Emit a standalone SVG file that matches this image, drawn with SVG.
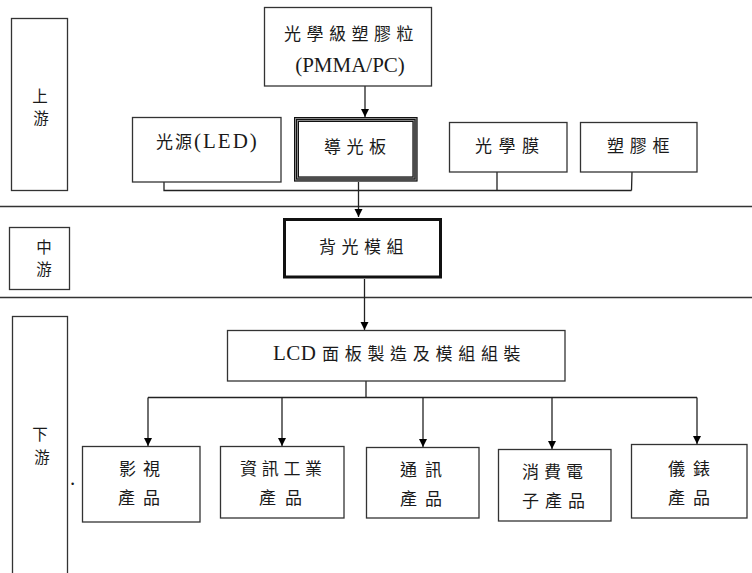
<svg xmlns="http://www.w3.org/2000/svg" width="752" height="573" viewBox="0 0 752 573">
<style>
  .box{fill:#fff;stroke:#333;stroke-width:1.3}
  .sep{stroke:#333;stroke-width:1.3;fill:none}
  .cn{font-family:"Noto Sans CJK TC","Liberation Serif",serif;font-size:17px;fill:#1a1a1a}
  .stage{font-family:"Noto Sans CJK TC","Liberation Serif",serif;font-size:15.5px;fill:#1a1a1a;text-anchor:middle}
  .lat{font-family:"Liberation Serif",serif;font-size:21px;fill:#1a1a1a}
  .mid{text-anchor:middle}
  .conn path{stroke:#222;stroke-width:1.3;fill:none}
</style>
<defs>
  <marker id="arr" markerUnits="userSpaceOnUse" markerWidth="9" markerHeight="9" refX="8" refY="4" orient="auto">
    <path d="M0,0 L8,4 L0,8 Z" fill="#000"/>
  </marker>
</defs>
<rect width="752" height="573" fill="#fff"/>

<!-- separators -->
<path class="sep" d="M0,206.5 H752 M0,297.5 H752"/>

<!-- stage labels -->
<g id="upstream">
  <rect class="box" x="11.5" y="18.5" width="56" height="172"/>
  <text class="stage" x="40" y="101.5">上</text>
  <text class="stage" x="41" y="124">游</text>
</g>
<g id="midstream">
  <rect class="box" x="9.5" y="227.5" width="60" height="62"/>
  <text class="stage" x="44" y="252.5">中</text>
  <text class="stage" x="44" y="275">游</text>
</g>
<g id="downstream">
  <rect class="box" x="12.5" y="316.5" width="55" height="300"/>
  <text class="stage" x="40" y="439.5">下</text>
  <text class="stage" x="42" y="462.5">游</text>
</g>
<text class="lat" x="70" y="485" font-size="12">.</text>

<!-- connectors -->
<g class="conn">
  <path d="M365,86 V117" marker-end="url(#arr)"/>
  <path d="M164,182 V190.5 H631.5 M497,172 V190.5 M632,172 L631.5,190.5"/>
  <path d="M358.5,182 V217" marker-end="url(#arr)"/>
  <path d="M364.5,279 V330" marker-end="url(#arr)"/>
  <path d="M366,381 V397.5 M148,397.5 H697"/>
  <path d="M148,397.5 V446" marker-end="url(#arr)"/>
  <path d="M282,397.5 V446" marker-end="url(#arr)"/>
  <path d="M423,397.5 V447" marker-end="url(#arr)"/>
  <path d="M552,397.5 V449" marker-end="url(#arr)"/>
  <path d="M697,397.5 V444" marker-end="url(#arr)"/>
</g>

<!-- upstream nodes -->
<g id="pmma">
  <rect class="box" x="264.5" y="7.5" width="167" height="78.5"/>
  <text class="cn" x="284" y="39.5" letter-spacing="5.5">光學級塑膠粒</text>
  <text class="lat mid" x="350" y="72">(PMMA/PC)</text>
</g>
<g id="led">
  <rect class="box" x="132.5" y="117.5" width="148.5" height="64.5"/>
  <text class="cn" x="156" y="147.5" letter-spacing="2">光源<tspan class="lat" letter-spacing="2">(LED)</tspan></text>
</g>
<g id="lgp">
  <rect x="294" y="117" width="123.5" height="64.5" fill="#fff" stroke="none"/>
  <rect x="296.5" y="119.5" width="118.5" height="59.5" fill="none" stroke="#888" stroke-width="5"/>
  <rect x="294.5" y="117.5" width="122.5" height="63.5" fill="none" stroke="#111" stroke-width="1"/>
  <rect x="296.5" y="119.5" width="118.5" height="59.5" fill="none" stroke="#111" stroke-width="1"/>
  <rect x="298.5" y="121.5" width="114.5" height="55.5" fill="none" stroke="#111" stroke-width="1"/>
  <text class="cn" x="324" y="152.5" letter-spacing="5.5">導光板</text>
</g>
<g id="film">
  <rect class="box" x="449.5" y="122.5" width="117.5" height="49.5"/>
  <text class="cn" x="475" y="151.5" letter-spacing="6.5">光學膜</text>
</g>
<g id="frame">
  <rect class="box" x="580.5" y="122.5" width="116.5" height="49.5"/>
  <text class="cn" x="607" y="151.5" letter-spacing="5.7">塑膠框</text>
</g>

<!-- midstream node -->
<g id="blu">
  <rect x="284.5" y="219.5" width="156" height="57.5" fill="#fff" stroke="#111" stroke-width="3"/>
  <text class="cn" x="319" y="252.5" font-size="18" letter-spacing="5.5">背光模組</text>
</g>

<!-- downstream nodes -->
<g id="lcd">
  <rect class="box" x="227.5" y="330.5" width="337.5" height="50.5"/>
  <text class="lat" x="273" y="360" letter-spacing="0.5">LCD</text>
  <text class="cn" x="322" y="359.5" letter-spacing="5.7">面板製造及模組組裝</text>
</g>
<g id="av">
  <rect class="box" x="82.5" y="446.5" width="117.5" height="75.5"/>
  <text class="cn" x="119" y="474.5" letter-spacing="7">影視</text>
  <text class="cn" x="118" y="503.5" letter-spacing="8">產品</text>
</g>
<g id="it">
  <rect class="box" x="220.5" y="446.5" width="123.5" height="71.5"/>
  <text class="cn" x="240" y="474.5" letter-spacing="4.7">資訊工業</text>
  <text class="cn" x="259" y="503.5" letter-spacing="9">產品</text>
</g>
<g id="comm">
  <rect class="box" x="366.5" y="447.5" width="112.5" height="70.5"/>
  <text class="cn" x="400" y="475.5" letter-spacing="8">通訊</text>
  <text class="cn" x="400" y="504.5" letter-spacing="8">產品</text>
</g>
<g id="consumer">
  <rect class="box" x="498.5" y="449.5" width="112.5" height="71.5"/>
  <text class="cn" x="522" y="477.5" letter-spacing="5">消費電</text>
  <text class="cn" x="522" y="506.5" letter-spacing="6">子產品</text>
</g>
<g id="instrument">
  <rect class="box" x="631.5" y="444.5" width="115.5" height="73.5"/>
  <text class="cn" x="668" y="474.5" letter-spacing="8">儀錶</text>
  <text class="cn" x="668" y="503.5" letter-spacing="8">產品</text>
</g>
</svg>
